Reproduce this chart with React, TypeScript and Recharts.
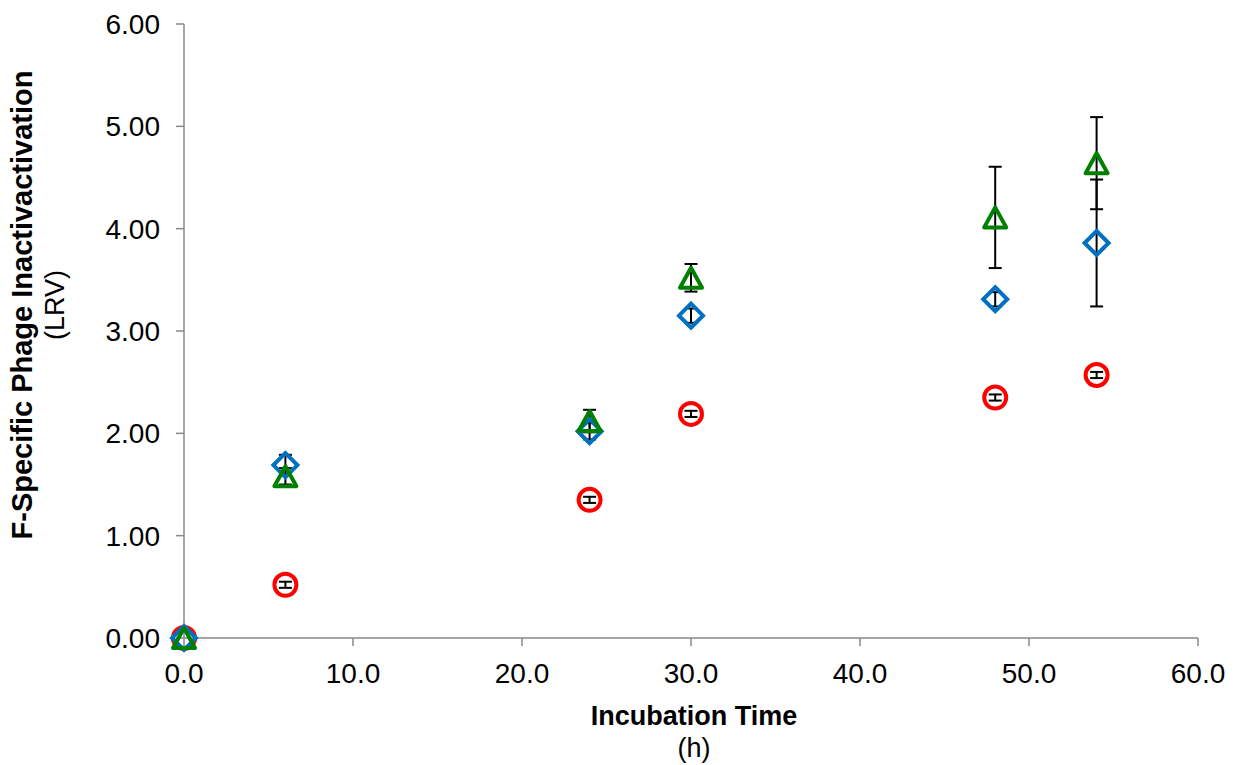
import React from 'react';
import { ScatterChart, Scatter, XAxis, YAxis, ErrorBar } from 'recharts';

const times = [0, 6, 24, 30, 48, 54];
const redValues = [0, 0.52, 1.35, 2.19, 2.35, 2.57];
const redErrors = [0, 0.03, 0.03, 0.03, 0.03, 0.03];
const blueValues = [0, 1.69, 2.02, 3.15, 3.31, 3.86];
const blueErrors = [0, 0.1, 0.08, 0.07, 0.07, 0.62];
const greenValues = [0, 1.58, 2.12, 3.52, 4.11, 4.64];
const greenErrors = [0, 0.08, 0.11, 0.135, 0.495, 0.45];

const xTicks = [0, 10, 20, 30, 40, 50, 60];
const yTicks = [0, 1, 2, 3, 4, 5, 6];

const build = (vals: number[], errs: number[]) =>
  times.map((t, i) => ({ x: t, y: vals[i], err: errs[i] }));

const redData = build(redValues, redErrors);
const blueData = build(blueValues, blueErrors);
const greenData = build(greenValues, greenErrors);

const FONT = '"Liberation Sans", Arial, sans-serif';
const AXIS = '#898989';

const CircleShape = (p: any) => (
  <circle cx={p.cx} cy={p.cy} r={11} fill="none" stroke="#FF0000" strokeWidth={4} />
);
const DiamondShape = (p: any) => {
  const { cx, cy } = p;
  const s = 12;
  return (
    <path
      d={`M${cx},${cy - s}L${cx + s},${cy}L${cx},${cy + s}L${cx - s},${cy}Z`}
      fill="none"
      stroke="#0070C0"
      strokeWidth={4}
    />
  );
};
const TriangleShape = (p: any) => {
  const { cx, cy } = p;
  return (
    <path
      d={`M${cx},${cy - 10}L${cx + 11},${cy + 10}L${cx - 11},${cy + 10}Z`}
      fill="none"
      stroke="#008000"
      strokeWidth={4}
      strokeLinejoin="round"
    />
  );
};

const XLabel = () => (
  <g fontFamily={FONT} fontSize={27} fill="#000">
    <text x={686} y={717} textAnchor="middle" fontWeight="bold">Incubation Time</text>
    <text x={686} y={749} textAnchor="middle">(h)</text>
  </g>
);

const YLabel = () => (
  <g fontFamily={FONT} fill="#000">
    <text x={24} y={297} fontSize={29} textAnchor="middle" fontWeight="bold" transform="rotate(-90, 24, 297)">
      F-Specific Phage Inactivactivation
    </text>
    <text x={56} y={297} fontSize={27} textAnchor="middle" transform="rotate(-90, 56, 297)">
      (LRV)
    </text>
  </g>
);

export default function App() {
  return (
    <ScatterChart
      width={1227}
      height={757}
      margin={{ top: 16, right: 37, left: 0, bottom: 67 }}
      style={{ fontFamily: FONT }}
    >
      <XAxis
        type="number"
        dataKey="x"
        domain={[0, 60]}
        ticks={xTicks}
        interval={0}
        tickFormatter={(v: number) => v.toFixed(1)}
        height={60}
        tickSize={8}
        tickMargin={17}
        axisLine={{ stroke: AXIS, strokeWidth: 1.5 }}
        tickLine={{ stroke: AXIS, strokeWidth: 1.5 }}
        tick={{ fill: '#000', fontSize: 28, fontFamily: FONT }}
        label={<XLabel />}
      />
      <YAxis
        type="number"
        dataKey="y"
        domain={[0, 6]}
        ticks={yTicks}
        interval={0}
        tickFormatter={(v: number) => v.toFixed(2)}
        width={176}
        tickSize={8}
        tickMargin={16}
        axisLine={{ stroke: AXIS, strokeWidth: 1.5 }}
        tickLine={{ stroke: AXIS, strokeWidth: 1.5 }}
        tick={{ fill: '#000', fontSize: 28, fontFamily: FONT }}
        label={<YLabel />}
      />
      <Scatter data={redData} shape={CircleShape} isAnimationActive={false}>
        <ErrorBar dataKey="err" direction="y" width={6.5} stroke="#000" strokeWidth={2} />
      </Scatter>
      <Scatter data={blueData} shape={DiamondShape} isAnimationActive={false}>
        <ErrorBar dataKey="err" direction="y" width={6.5} stroke="#000" strokeWidth={2} />
      </Scatter>
      <Scatter data={greenData} shape={TriangleShape} isAnimationActive={false}>
        <ErrorBar dataKey="err" direction="y" width={6.5} stroke="#000" strokeWidth={2} />
      </Scatter>
    </ScatterChart>
  );
}
